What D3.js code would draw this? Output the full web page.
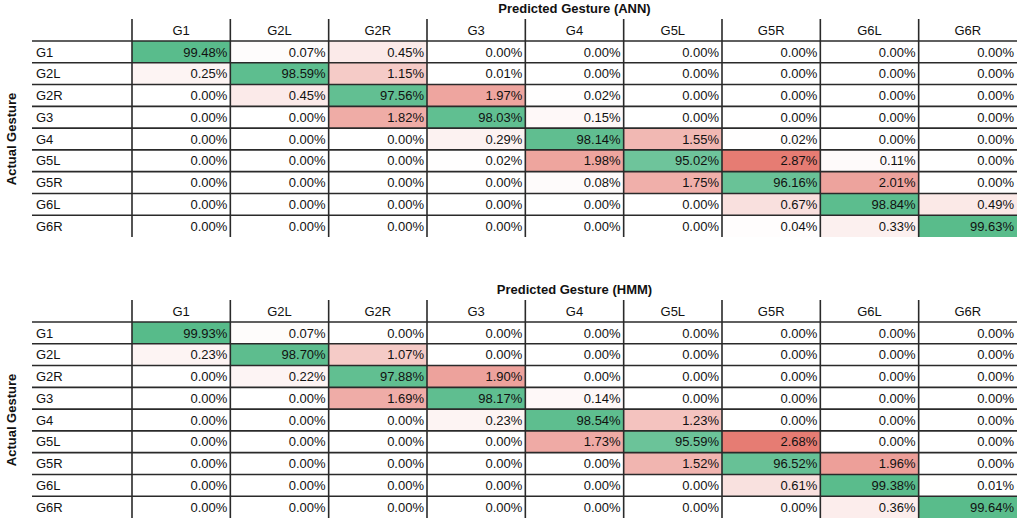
<!DOCTYPE html>
<html>
<head>
<meta charset="utf-8">
<script src="https://cdn.jsdelivr.net/npm/d3@7"></script>
<style>
  body { margin: 0; background: #fff; }
  text { font-family: "Liberation Sans", Arial, sans-serif; }
</style>
</head>
<body>
<div id="viz"></div>
<script>
// gesture labels (rows = actual, columns = predicted)
var gestures = ["G1", "G2L", "G2R", "G3", "G4", "G5L", "G5R", "G6L", "G6R"];

// confusion matrix for the ANN classifier, in percent
var annValues = [
  [99.48, 0.07, 0.45, 0.00, 0.00, 0.00, 0.00, 0.00, 0.00],
  [0.25, 98.59, 1.15, 0.01, 0.00, 0.00, 0.00, 0.00, 0.00],
  [0.00, 0.45, 97.56, 1.97, 0.02, 0.00, 0.00, 0.00, 0.00],
  [0.00, 0.00, 1.82, 98.03, 0.15, 0.00, 0.00, 0.00, 0.00],
  [0.00, 0.00, 0.00, 0.29, 98.14, 1.55, 0.02, 0.00, 0.00],
  [0.00, 0.00, 0.00, 0.02, 1.98, 95.02, 2.87, 0.11, 0.00],
  [0.00, 0.00, 0.00, 0.00, 0.08, 1.75, 96.16, 2.01, 0.00],
  [0.00, 0.00, 0.00, 0.00, 0.00, 0.00, 0.67, 98.84, 0.49],
  [0.00, 0.00, 0.00, 0.00, 0.00, 0.00, 0.04, 0.33, 99.63]
];

// confusion matrix for the HMM classifier, in percent
var hmmValues = [
  [99.93, 0.07, 0.00, 0.00, 0.00, 0.00, 0.00, 0.00, 0.00],
  [0.23, 98.70, 1.07, 0.00, 0.00, 0.00, 0.00, 0.00, 0.00],
  [0.00, 0.22, 97.88, 1.90, 0.00, 0.00, 0.00, 0.00, 0.00],
  [0.00, 0.00, 1.69, 98.17, 0.14, 0.00, 0.00, 0.00, 0.00],
  [0.00, 0.00, 0.00, 0.23, 98.54, 1.23, 0.00, 0.00, 0.00],
  [0.00, 0.00, 0.00, 0.00, 1.73, 95.59, 2.68, 0.00, 0.00],
  [0.00, 0.00, 0.00, 0.00, 0.00, 1.52, 96.52, 1.96, 0.00],
  [0.00, 0.00, 0.00, 0.00, 0.00, 0.00, 0.61, 99.38, 0.01],
  [0.00, 0.00, 0.00, 0.00, 0.00, 0.00, 0.00, 0.36, 99.64]
];

var titles = ["Predicted Gesture (ANN)", "Predicted Gesture (HMM)"];

var width = 1024, height = 527;

var svg = d3.select("#viz")
  .append("svg")
    .attr("width", width)
    .attr("height", height);

var x = d3.scaleBand().domain(gestures).range([132, 1017]);

function drawMatrix(values, title, top) {
  var g = svg.append("g").attr("transform", "translate(0," + top + ")");
  var headTop = 19, headBottom = 41, bottom = 237;
  var y = d3.scaleBand().domain(gestures).range([headBottom, bottom]);

  // colour scales: one for the diagonal, one for the errors
  var cells = [];
  values.forEach(function(row, i) {
    row.forEach(function(v, j) {
      cells.push({ row: gestures[i], col: gestures[j], value: v, diag: i === j });
    });
  });
  var offMax = d3.max(cells.filter(function(d) { return !d.diag; }), function(d) { return d.value; });
  var red = d3.scaleLinear().domain([0, offMax]).range(["#ffffff", "#e67c73"]);
  var green = d3.scaleLinear().domain([95, 100]).range(["#6ec49b", "#57bb8a"]).clamp(true);

  g.selectAll("rect.cell")
    .data(cells)
    .enter()
    .append("rect")
      .attr("class", "cell")
      .attr("x", function(d) { return x(d.col); })
      .attr("y", function(d) { return y(d.row); })
      .attr("width", x.bandwidth())
      .attr("height", y.bandwidth())
      .style("fill", function(d) { return d.diag ? green(d.value) : red(d.value); });

  g.selectAll("text.val")
    .data(cells)
    .enter()
    .append("text")
      .attr("class", "val")
      .attr("x", function(d) { return x(d.col) + x.bandwidth() - 3; })
      .attr("y", function(d) { return y(d.row) + y.bandwidth() / 2; })
      .attr("dy", "0.36em")
      .attr("text-anchor", "end")
      .style("font-size", "13px")
      .style("fill", "#111")
      .text(function(d) { return d.value.toFixed(2) + "%"; });

  // column headers
  g.selectAll("text.colhead")
    .data(gestures)
    .enter()
    .append("text")
      .attr("class", "colhead")
      .attr("x", function(d) { return x(d) + x.bandwidth() / 2; })
      .attr("y", (headTop + headBottom) / 2)
      .attr("dy", "0.36em")
      .attr("text-anchor", "middle")
      .style("font-size", "13px")
      .style("fill", "#111")
      .text(function(d) { return d; });

  // row headers
  g.selectAll("text.rowhead")
    .data(gestures)
    .enter()
    .append("text")
      .attr("class", "rowhead")
      .attr("x", 36)
      .attr("y", function(d) { return y(d) + y.bandwidth() / 2; })
      .attr("dy", "0.36em")
      .style("font-size", "13px")
      .style("fill", "#111")
      .text(function(d) { return d; });

  // horizontal rules under header and each row
  var rules = [headBottom].concat(gestures.slice(0, -1).map(function(d) { return y(d) + y.bandwidth(); }));
  g.selectAll("line.h")
    .data(rules)
    .enter()
    .append("line")
      .attr("x1", 32).attr("x2", 1017)
      .attr("y1", function(d) { return d; })
      .attr("y2", function(d) { return d; })
      .style("stroke", "#2a2a2a")
      .style("stroke-width", 1.6);

  // vertical rules on the left of each column
  g.selectAll("line.v")
    .data(gestures)
    .enter()
    .append("line")
      .attr("x1", function(d) { return x(d); })
      .attr("x2", function(d) { return x(d); })
      .attr("y1", headTop).attr("y2", bottom)
      .style("stroke", "#2a2a2a")
      .style("stroke-width", 1.6);

  // titles
  g.append("text")
    .attr("x", (x.range()[0] + x.range()[1]) / 2)
    .attr("y", 8)
    .attr("dy", "0.36em")
    .attr("text-anchor", "middle")
    .style("font-size", "13px")
    .style("font-weight", "bold")
    .style("fill", "#111")
    .text(title);

  g.append("text")
    .attr("transform", "translate(11," + (headBottom + bottom) / 2 + ") rotate(-90)")
    .attr("dy", "0.36em")
    .attr("text-anchor", "middle")
    .style("font-size", "13px")
    .style("font-weight", "bold")
    .style("fill", "#111")
    .text("Actual Gesture");
}

drawMatrix(annValues, titles[0], 0);
drawMatrix(hmmValues, titles[1], 281);
</script>
</body>
</html>
